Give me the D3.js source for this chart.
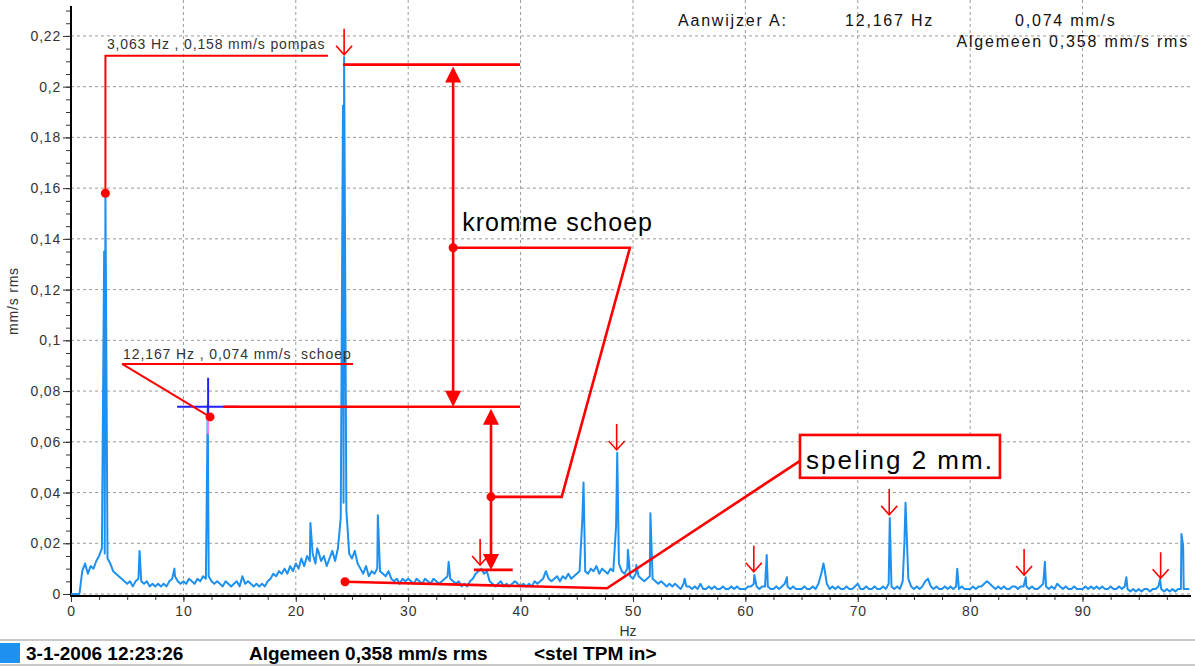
<!DOCTYPE html>
<html>
<head>
<meta charset="utf-8">
<style>
  body { margin: 0; background: #fff; }
  svg { display: block; font-family: "Liberation Sans", Arial, sans-serif; }
</style>
<script src="https://cdn.jsdelivr.net/npm/d3@7"></script>
</head>
<body>
<div id="container"></div>
<script>
// spectrum noise floor, one value every 0.25 Hz, in 0.001 mm/s
var noiseStep = 0.25;
var noise = [
  0,0,0,0, 9,12,8,11, 10,13,15,18, 16,14,12,9, 8,7,6,5,
  4,5,3,5, 6,5,4,5, 3,4,3,4, 3,4,3,5, 6,7,5,4,
  5,4,6,5, 4,6,5,7, 6,7,5,4, 5,4,3,5, 4,3,4,5,
  3,7,4,5, 4,3,4,3, 4,3,5,6, 8,7,9,8, 10,8,11,9,
  12,10,14,11, 15,13,16,12, 17,13,15,11, 14,17,13,18, 30,36,33,16,
  14,17,12,10, 8,11,7,9, 8,10,9,8, 7,9,6,5, 6,4,6,5,
  6,5,4,6, 5,4,6,5, 4,6,5,4, 5,6,7,6, 5,4,5,3,
  4,3,5,6, 8,9,10,8, 9,5,4,3, 4,5,3,4, 3,4,5,4,
  3,4,3,4, 3,5,4,5, 6,9,6,5, 6,7,5,7, 6,8,6,7,
  8,9,30,9, 8,10,9,11, 8,10,9,8, 10,9,27,12, 9,8,10,7,
  6,8,7,6, 5,6,7,6, 5,4,5,4, 3,4,3,4, 3,2,4,3,
  3,2,3,2, 4,2,2,3, 2,3,2,2, 3,2,2,3, 2,3,2,2,
  2,3,3,4, 3,2,3,3, 3,2,2,3, 2,3,4,3, 2,3,2,2,
  2,3,2,2, 3,2,4,8, 11,4,2,3, 2,3,2,2, 3,2,2,3,
  4,2,2,3, 2,2,3,2, 2,3,2,4, 3,2,3,2, 5,36,6,3,
  2,3,2,3, 5,6,3,2, 3,2,2,3, 2,3,2,3, 2,3,2,2,
  2,3,2,3, 3,4,5,4, 3,2,3,2, 3,2,2,3, 3,2,3,3,
  3,2,3,2, 2,3,4,3, 2,3,2,4, 3,2,3,2, 2,3,2,2,
  2,3,2,3, 2,3,2,3, 2,2,3,2, 2,3,2,3, 2,1,2,1,
  2,1,2,2, 1,2,2,3, 2,1,2,1, 2,1,2,2, 2,2,2
];

// spectral lines [Hz, mm/s]
var peaks = [
  [2.95, 0.135], [3.063, 0.158], [6.1, 0.017], [9.2, 0.010], [12.167, 0.0745],
  [21.3, 0.028], [21.9, 0.018], [24.2, 0.1925], [24.3, 0.2117], [27.3, 0.031],
  [33.6, 0.0127], [45.6, 0.044], [48.6, 0.0557], [49.55, 0.0174], [50.3, 0.0114],
  [51.55, 0.0318], [54.6, 0.006], [60.8, 0.0075], [61.9, 0.0154], [63.7, 0.0066],
  [66.95, 0.012], [72.85, 0.030], [74.15, 0.020], [78.85, 0.010], [84.95, 0.0066],
  [86.65, 0.0127], [93.9, 0.0066], [96.9, 0.0058], [98.8, 0.0237], [98.95, 0.019]
];

var xTicks = [0, 10, 20, 30, 40, 50, 60, 70, 80, 90];
var yTicks = [0, 0.02, 0.04, 0.06, 0.08, 0.1, 0.12, 0.14, 0.16, 0.18, 0.2, 0.22];

// small red arrows marking harmonics [Hz, mm/s at tip]
var harmonicArrows = [[24.3, 0.2126], [36.4, 0.0114], [48.55, 0.0568], [60.75, 0.0088],
  [72.8, 0.0312], [84.8, 0.0075], [96.95, 0.0062]];

// annotation geometry in chart units [Hz, mm/s]
var pompasLine = [[3.063, 0.158], [3.063, 0.2122], [22.86, 0.2122]];
var schoepLine = [[4.54, 0.0907], [25.09, 0.0907]];
var schoepLeader = [[4.54, 0.0907], [12.37, 0.0698]];
var topLine = [[24.2, 0.2087], [39.95, 0.2087]];
var midLine = [[13.55, 0.0738], [39.95, 0.0738]];
var bottomLine = [[35.85, 0.0095], [39.3, 0.0095]];
var arrowA = [34.0, 0.2087, 0.0738];
var arrowB = [37.37, 0.0738, 0.0095];
var krommeLeader = [[34.0, 0.1365], [49.73, 0.1365], [43.66, 0.0383], [37.37, 0.0383]];
var spelingLeader = [[24.38, 0.00485], [47.69, 0.00225], [64.86, 0.0525]];
var spelingBox = [[64.86, 0.0627], [82.65, 0.0458]];

var w = 1195, h = 666;
var svg = d3.select("#container").append("svg").attr("width", w).attr("height", h);

var x = d3.scaleLinear().domain([0, 99.65]).range([71, 1191]);
var y = d3.scaleLinear().domain([0, 0.2318]).range([594, 6]);
var line = d3.line().x(function(d) { return x(d[0]); }).y(function(d) { return y(d[1]); });
var fmt = function(d) { return d === 0 ? "0" : String(+d.toFixed(2)).replace(".", ","); };

var red = "#ff0000";
var blue = "#1e90f0";

// grid
svg.append("g").selectAll("line").data(xTicks.slice(1)).enter().append("line")
  .attr("x1", x).attr("x2", x).attr("y1", 0).attr("y2", 596)
  .attr("stroke", "#9a9a9a").attr("stroke-dasharray", "3,3");
svg.append("g").selectAll("line").data(yTicks).enter().append("line")
  .attr("x1", 71).attr("x2", 1191).attr("y1", y).attr("y2", y)
  .attr("stroke", "#9a9a9a").attr("stroke-dasharray", "3,3");

// axes
function styleAxis(g) {
  g.select(".domain").remove();
  g.attr("font-size", null).attr("font-family", null);
  g.selectAll(".tick line").attr("stroke", "#333");
  g.selectAll(".tick text").attr("fill", "#333").style("font-size", "14px").style("letter-spacing", "0.8px");
}
svg.append("g").attr("transform", "translate(71,0)")
  .call(d3.axisLeft(y).tickValues(d3.range(0, 0.232, 0.005)).tickSize(5).tickFormat(""))
  .call(styleAxis);
svg.append("g").attr("transform", "translate(71,0)")
  .call(d3.axisLeft(y).tickValues(yTicks).tickSize(8).tickPadding(2).tickFormat(fmt))
  .call(styleAxis);
svg.append("g").attr("transform", "translate(0,596)")
  .call(d3.axisBottom(x).tickValues(d3.range(0, 99.65, 2.5)).tickSize(4).tickFormat(""))
  .call(styleAxis);
svg.append("g").attr("transform", "translate(0,596)")
  .call(d3.axisBottom(x).tickValues(xTicks).tickSize(6).tickPadding(4).tickFormat(fmt))
  .call(styleAxis);

svg.append("line").attr("x1", 71).attr("x2", 71).attr("y1", 6).attr("y2", 597)
  .attr("stroke", "#000").attr("stroke-width", 2);
svg.append("line").attr("x1", 70).attr("x2", 1191).attr("y1", 596).attr("y2", 596)
  .attr("stroke", "#000").attr("stroke-width", 2);

svg.append("text").attr("transform", "translate(18,301) rotate(-90)")
  .attr("text-anchor", "middle").attr("fill", "#333")
  .style("font-size", "14px").style("letter-spacing", "0.8px").text("mm/s rms");
svg.append("text").attr("x", 628).attr("y", 636).attr("text-anchor", "middle")
  .attr("fill", "#333").style("font-size", "14px").text("Hz");

// spectrum
var spectrum = noise.map(function(v, i) { return [i * noiseStep, v / 1000]; })
  .concat(peaks)
  .sort(function(a, b) { return a[0] - b[0]; });
svg.append("path").datum(spectrum).attr("d", line)
  .attr("fill", "none").attr("stroke", blue).attr("stroke-width", 2).attr("stroke-linejoin", "round");

// header
var head = svg.append("g").attr("fill", "#111").style("font-size", "16px").style("letter-spacing", "1.8px");
head.append("text").attr("x", 678).attr("y", 26).text("Aanwijzer A:");
head.append("text").attr("x", 845).attr("y", 26).text("12,167 Hz");
head.append("text").attr("x", 1015).attr("y", 26).text("0,074 mm/s");
head.append("text").attr("x", 1189).attr("y", 47).attr("text-anchor", "end").text("Algemeen 0,358 mm/s rms");

// harmonic arrows
var ha = svg.append("g").attr("stroke", red).attr("stroke-width", 1.6).attr("fill", "none");
harmonicArrows.forEach(function(d) {
  var px = x(d[0]), py = y(d[1]);
  ha.append("line").attr("x1", px).attr("x2", px).attr("y1", py - 26).attr("y2", py);
  ha.append("path").attr("d", "M" + (px - 8) + "," + (py - 9) + "L" + px + "," + py + "L" + (px + 8) + "," + (py - 9));
});

// pompas callout
svg.append("path").datum(pompasLine).attr("d", line).attr("fill", "none").attr("stroke", red).attr("stroke-width", 2);
svg.append("circle").attr("cx", x(pompasLine[0][0])).attr("cy", y(pompasLine[0][1])).attr("r", 4.5).attr("fill", red);
svg.append("text").attr("x", x(3.2)).attr("y", y(0.2149)).attr("fill", "#333")
  .style("font-size", "14px").style("letter-spacing", "0.85px").text("3,063 Hz , 0,158 mm/s pompas");

// cursor cross at 12,167 Hz
var cx = x(12.2), cy = y(0.0738);
svg.append("line").attr("x1", cx).attr("x2", cx).attr("y1", cy + 10).attr("y2", cy + 27).attr("stroke", "#ff80ff").attr("stroke-width", 2);
svg.append("line").attr("x1", cx - 31).attr("x2", cx + 31).attr("y1", cy).attr("y2", cy).attr("stroke", "#2020ff").attr("stroke-width", 2);
svg.append("line").attr("x1", cx).attr("x2", cx).attr("y1", cy - 29).attr("y2", cy + 10).attr("stroke", "#2020ff").attr("stroke-width", 2);

// schoep callout
svg.append("path").datum(schoepLine).attr("d", line).attr("fill", "none").attr("stroke", red).attr("stroke-width", 2);
svg.append("path").datum(schoepLeader).attr("d", line).attr("fill", "none").attr("stroke", red).attr("stroke-width", 2);
svg.append("circle").attr("cx", x(12.37)).attr("cy", y(0.0698)).attr("r", 4.5).attr("fill", red);
svg.append("text").attr("x", x(4.63)).attr("y", y(0.0926)).attr("fill", "#333")
  .style("font-size", "14px").style("letter-spacing", "0.9px").style("white-space", "pre")
  .text("12,167 Hz , 0,074 mm/s  schoep");

// kromme schoep construction
var k = svg.append("g").attr("stroke", red).attr("stroke-width", 2.6).attr("fill", "none");
[topLine, midLine, bottomLine, krommeLeader].forEach(function(l) {
  k.append("path").datum(l).attr("d", line);
});
function doubleArrow(a) {
  var px = x(a[0]), y1 = y(a[1]), y2 = y(a[2]);
  k.append("line").attr("x1", px).attr("x2", px).attr("y1", y1 + 10).attr("y2", y2 - 10);
  svg.append("path").attr("fill", red)
    .attr("d", "M" + px + "," + (y1 + 2) + "L" + (px - 8) + "," + (y1 + 18) + "L" + (px + 8) + "," + (y1 + 18) + "Z");
  svg.append("path").attr("fill", red)
    .attr("d", "M" + px + "," + y2 + "L" + (px - 8) + "," + (y2 - 16) + "L" + (px + 8) + "," + (y2 - 16) + "Z");
}
doubleArrow(arrowA);
doubleArrow(arrowB);
svg.append("circle").attr("cx", x(krommeLeader[0][0])).attr("cy", y(krommeLeader[0][1])).attr("r", 4.5).attr("fill", red);
svg.append("circle").attr("cx", x(krommeLeader[3][0])).attr("cy", y(krommeLeader[3][1])).attr("r", 4.5).attr("fill", red);
svg.append("text").attr("x", x(34.8)).attr("y", y(0.1432)).attr("fill", "#000")
  .style("font-size", "25px").style("letter-spacing", "1px").text("kromme schoep");

// speling callout
svg.append("path").datum(spelingLeader).attr("d", line).attr("fill", "none").attr("stroke", red).attr("stroke-width", 2.6);
svg.append("circle").attr("cx", x(spelingLeader[0][0])).attr("cy", y(spelingLeader[0][1])).attr("r", 4.5).attr("fill", red);
svg.append("rect")
  .attr("x", x(spelingBox[0][0])).attr("y", y(spelingBox[0][1]))
  .attr("width", x(spelingBox[1][0]) - x(spelingBox[0][0]))
  .attr("height", y(spelingBox[1][1]) - y(spelingBox[0][1]))
  .attr("fill", "#fff").attr("stroke", red).attr("stroke-width", 2.6);
svg.append("text").attr("x", x(65.4)).attr("y", y(0.0493)).attr("fill", "#000")
  .style("font-size", "26px").style("letter-spacing", "2px").text("speling 2 mm.");

// status bar
svg.append("line").attr("x1", 0).attr("x2", w).attr("y1", 640).attr("y2", 640).attr("stroke", "#c8c8c8").attr("stroke-width", 2);
svg.append("line").attr("x1", 0).attr("x2", w).attr("y1", 665).attr("y2", 665).attr("stroke", "#c8c8c8").attr("stroke-width", 2);
svg.append("rect").attr("x", 0).attr("y", 643).attr("width", 20).attr("height", 20).attr("fill", blue);
var st = svg.append("g").attr("fill", "#000").style("font-size", "19px").style("font-weight", "bold");
st.append("text").attr("x", 26).attr("y", 660).text("3-1-2006 12:23:26");
st.append("text").attr("x", 249).attr("y", 660).text("Algemeen 0,358 mm/s rms");
st.append("text").attr("x", 534).attr("y", 660).text("<stel TPM in>");
</script>
</body>
</html>
